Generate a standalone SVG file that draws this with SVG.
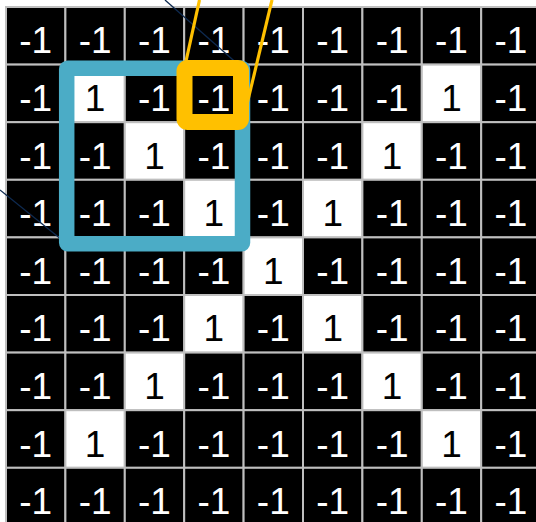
<svg xmlns="http://www.w3.org/2000/svg" width="536" height="522" viewBox="0 0 536 522">
<style>
rect.b{fill:#000;stroke:#bfbfbf;stroke-width:2}
rect.w{fill:#fff;stroke:#bfbfbf;stroke-width:2}
text{font-family:"Liberation Sans",Arial,sans-serif;font-size:37px;text-anchor:middle}
text.n{fill:#fff}
text.p{fill:#000}
.navy{stroke:#0e2a50;stroke-width:1.3;fill:none}
.yl{stroke:#ffc000;stroke-width:3.2;fill:none}
</style>
<rect width="536" height="522" fill="#fff"/>
<g id="grid">
<g id="r0">
<g id="c0-0"><rect class="b" x="6" y="7" width="59.4" height="57.6"/><text class="n" x="35.7" y="53.3">-1</text></g>
<g id="c0-1"><rect class="b" x="65.4" y="7" width="59.4" height="57.6"/><text class="n" x="95.1" y="53.3">-1</text></g>
<g id="c0-2"><rect class="b" x="124.8" y="7" width="59.4" height="57.6"/><text class="n" x="154.5" y="53.3">-1</text></g>
<g id="c0-3"><rect class="b" x="184.2" y="7" width="59.4" height="57.6"/><text class="n" x="213.9" y="53.3">-1</text></g>
<g id="c0-4"><rect class="b" x="243.6" y="7" width="59.4" height="57.6"/><text class="n" x="273.3" y="53.3">-1</text></g>
<g id="c0-5"><rect class="b" x="303" y="7" width="59.4" height="57.6"/><text class="n" x="332.7" y="53.3">-1</text></g>
<g id="c0-6"><rect class="b" x="362.4" y="7" width="59.4" height="57.6"/><text class="n" x="392.1" y="53.3">-1</text></g>
<g id="c0-7"><rect class="b" x="421.8" y="7" width="59.4" height="57.6"/><text class="n" x="451.5" y="53.3">-1</text></g>
<g id="c0-8"><rect class="b" x="481.2" y="7" width="59.4" height="57.6"/><text class="n" x="510.9" y="53.3">-1</text></g>
</g>
<g id="r1">
<g id="c1-0"><rect class="b" x="6" y="64.6" width="59.4" height="57.6"/><text class="n" x="35.7" y="110.9">-1</text></g>
<g id="c1-1"><rect class="w" x="65.4" y="64.6" width="59.4" height="57.6"/><text class="p" x="95.1" y="110.9">1</text></g>
<g id="c1-2"><rect class="b" x="124.8" y="64.6" width="59.4" height="57.6"/><text class="n" x="154.5" y="110.9">-1</text></g>
<g id="c1-3"><rect class="b" x="184.2" y="64.6" width="59.4" height="57.6"/><text class="n" x="213.9" y="110.9">-1</text></g>
<g id="c1-4"><rect class="b" x="243.6" y="64.6" width="59.4" height="57.6"/><text class="n" x="273.3" y="110.9">-1</text></g>
<g id="c1-5"><rect class="b" x="303" y="64.6" width="59.4" height="57.6"/><text class="n" x="332.7" y="110.9">-1</text></g>
<g id="c1-6"><rect class="b" x="362.4" y="64.6" width="59.4" height="57.6"/><text class="n" x="392.1" y="110.9">-1</text></g>
<g id="c1-7"><rect class="w" x="421.8" y="64.6" width="59.4" height="57.6"/><text class="p" x="451.5" y="110.9">1</text></g>
<g id="c1-8"><rect class="b" x="481.2" y="64.6" width="59.4" height="57.6"/><text class="n" x="510.9" y="110.9">-1</text></g>
</g>
<g id="r2">
<g id="c2-0"><rect class="b" x="6" y="122.2" width="59.4" height="57.6"/><text class="n" x="35.7" y="168.5">-1</text></g>
<g id="c2-1"><rect class="b" x="65.4" y="122.2" width="59.4" height="57.6"/><text class="n" x="95.1" y="168.5">-1</text></g>
<g id="c2-2"><rect class="w" x="124.8" y="122.2" width="59.4" height="57.6"/><text class="p" x="154.5" y="168.5">1</text></g>
<g id="c2-3"><rect class="b" x="184.2" y="122.2" width="59.4" height="57.6"/><text class="n" x="213.9" y="168.5">-1</text></g>
<g id="c2-4"><rect class="b" x="243.6" y="122.2" width="59.4" height="57.6"/><text class="n" x="273.3" y="168.5">-1</text></g>
<g id="c2-5"><rect class="b" x="303" y="122.2" width="59.4" height="57.6"/><text class="n" x="332.7" y="168.5">-1</text></g>
<g id="c2-6"><rect class="w" x="362.4" y="122.2" width="59.4" height="57.6"/><text class="p" x="392.1" y="168.5">1</text></g>
<g id="c2-7"><rect class="b" x="421.8" y="122.2" width="59.4" height="57.6"/><text class="n" x="451.5" y="168.5">-1</text></g>
<g id="c2-8"><rect class="b" x="481.2" y="122.2" width="59.4" height="57.6"/><text class="n" x="510.9" y="168.5">-1</text></g>
</g>
<g id="r3">
<g id="c3-0"><rect class="b" x="6" y="179.8" width="59.4" height="57.6"/><text class="n" x="35.7" y="226.1">-1</text></g>
<g id="c3-1"><rect class="b" x="65.4" y="179.8" width="59.4" height="57.6"/><text class="n" x="95.1" y="226.1">-1</text></g>
<g id="c3-2"><rect class="b" x="124.8" y="179.8" width="59.4" height="57.6"/><text class="n" x="154.5" y="226.1">-1</text></g>
<g id="c3-3"><rect class="w" x="184.2" y="179.8" width="59.4" height="57.6"/><text class="p" x="213.9" y="226.1">1</text></g>
<g id="c3-4"><rect class="b" x="243.6" y="179.8" width="59.4" height="57.6"/><text class="n" x="273.3" y="226.1">-1</text></g>
<g id="c3-5"><rect class="w" x="303" y="179.8" width="59.4" height="57.6"/><text class="p" x="332.7" y="226.1">1</text></g>
<g id="c3-6"><rect class="b" x="362.4" y="179.8" width="59.4" height="57.6"/><text class="n" x="392.1" y="226.1">-1</text></g>
<g id="c3-7"><rect class="b" x="421.8" y="179.8" width="59.4" height="57.6"/><text class="n" x="451.5" y="226.1">-1</text></g>
<g id="c3-8"><rect class="b" x="481.2" y="179.8" width="59.4" height="57.6"/><text class="n" x="510.9" y="226.1">-1</text></g>
</g>
<g id="r4">
<g id="c4-0"><rect class="b" x="6" y="237.4" width="59.4" height="57.6"/><text class="n" x="35.7" y="283.7">-1</text></g>
<g id="c4-1"><rect class="b" x="65.4" y="237.4" width="59.4" height="57.6"/><text class="n" x="95.1" y="283.7">-1</text></g>
<g id="c4-2"><rect class="b" x="124.8" y="237.4" width="59.4" height="57.6"/><text class="n" x="154.5" y="283.7">-1</text></g>
<g id="c4-3"><rect class="b" x="184.2" y="237.4" width="59.4" height="57.6"/><text class="n" x="213.9" y="283.7">-1</text></g>
<g id="c4-4"><rect class="w" x="243.6" y="237.4" width="59.4" height="57.6"/><text class="p" x="273.3" y="283.7">1</text></g>
<g id="c4-5"><rect class="b" x="303" y="237.4" width="59.4" height="57.6"/><text class="n" x="332.7" y="283.7">-1</text></g>
<g id="c4-6"><rect class="b" x="362.4" y="237.4" width="59.4" height="57.6"/><text class="n" x="392.1" y="283.7">-1</text></g>
<g id="c4-7"><rect class="b" x="421.8" y="237.4" width="59.4" height="57.6"/><text class="n" x="451.5" y="283.7">-1</text></g>
<g id="c4-8"><rect class="b" x="481.2" y="237.4" width="59.4" height="57.6"/><text class="n" x="510.9" y="283.7">-1</text></g>
</g>
<g id="r5">
<g id="c5-0"><rect class="b" x="6" y="295" width="59.4" height="57.6"/><text class="n" x="35.7" y="341.3">-1</text></g>
<g id="c5-1"><rect class="b" x="65.4" y="295" width="59.4" height="57.6"/><text class="n" x="95.1" y="341.3">-1</text></g>
<g id="c5-2"><rect class="b" x="124.8" y="295" width="59.4" height="57.6"/><text class="n" x="154.5" y="341.3">-1</text></g>
<g id="c5-3"><rect class="w" x="184.2" y="295" width="59.4" height="57.6"/><text class="p" x="213.9" y="341.3">1</text></g>
<g id="c5-4"><rect class="b" x="243.6" y="295" width="59.4" height="57.6"/><text class="n" x="273.3" y="341.3">-1</text></g>
<g id="c5-5"><rect class="w" x="303" y="295" width="59.4" height="57.6"/><text class="p" x="332.7" y="341.3">1</text></g>
<g id="c5-6"><rect class="b" x="362.4" y="295" width="59.4" height="57.6"/><text class="n" x="392.1" y="341.3">-1</text></g>
<g id="c5-7"><rect class="b" x="421.8" y="295" width="59.4" height="57.6"/><text class="n" x="451.5" y="341.3">-1</text></g>
<g id="c5-8"><rect class="b" x="481.2" y="295" width="59.4" height="57.6"/><text class="n" x="510.9" y="341.3">-1</text></g>
</g>
<g id="r6">
<g id="c6-0"><rect class="b" x="6" y="352.6" width="59.4" height="57.6"/><text class="n" x="35.7" y="398.9">-1</text></g>
<g id="c6-1"><rect class="b" x="65.4" y="352.6" width="59.4" height="57.6"/><text class="n" x="95.1" y="398.9">-1</text></g>
<g id="c6-2"><rect class="w" x="124.8" y="352.6" width="59.4" height="57.6"/><text class="p" x="154.5" y="398.9">1</text></g>
<g id="c6-3"><rect class="b" x="184.2" y="352.6" width="59.4" height="57.6"/><text class="n" x="213.9" y="398.9">-1</text></g>
<g id="c6-4"><rect class="b" x="243.6" y="352.6" width="59.4" height="57.6"/><text class="n" x="273.3" y="398.9">-1</text></g>
<g id="c6-5"><rect class="b" x="303" y="352.6" width="59.4" height="57.6"/><text class="n" x="332.7" y="398.9">-1</text></g>
<g id="c6-6"><rect class="w" x="362.4" y="352.6" width="59.4" height="57.6"/><text class="p" x="392.1" y="398.9">1</text></g>
<g id="c6-7"><rect class="b" x="421.8" y="352.6" width="59.4" height="57.6"/><text class="n" x="451.5" y="398.9">-1</text></g>
<g id="c6-8"><rect class="b" x="481.2" y="352.6" width="59.4" height="57.6"/><text class="n" x="510.9" y="398.9">-1</text></g>
</g>
<g id="r7">
<g id="c7-0"><rect class="b" x="6" y="410.2" width="59.4" height="57.6"/><text class="n" x="35.7" y="456.5">-1</text></g>
<g id="c7-1"><rect class="w" x="65.4" y="410.2" width="59.4" height="57.6"/><text class="p" x="95.1" y="456.5">1</text></g>
<g id="c7-2"><rect class="b" x="124.8" y="410.2" width="59.4" height="57.6"/><text class="n" x="154.5" y="456.5">-1</text></g>
<g id="c7-3"><rect class="b" x="184.2" y="410.2" width="59.4" height="57.6"/><text class="n" x="213.9" y="456.5">-1</text></g>
<g id="c7-4"><rect class="b" x="243.6" y="410.2" width="59.4" height="57.6"/><text class="n" x="273.3" y="456.5">-1</text></g>
<g id="c7-5"><rect class="b" x="303" y="410.2" width="59.4" height="57.6"/><text class="n" x="332.7" y="456.5">-1</text></g>
<g id="c7-6"><rect class="b" x="362.4" y="410.2" width="59.4" height="57.6"/><text class="n" x="392.1" y="456.5">-1</text></g>
<g id="c7-7"><rect class="w" x="421.8" y="410.2" width="59.4" height="57.6"/><text class="p" x="451.5" y="456.5">1</text></g>
<g id="c7-8"><rect class="b" x="481.2" y="410.2" width="59.4" height="57.6"/><text class="n" x="510.9" y="456.5">-1</text></g>
</g>
<g id="r8">
<g id="c8-0"><rect class="b" x="6" y="467.8" width="59.4" height="57.6"/><text class="n" x="35.7" y="514.1">-1</text></g>
<g id="c8-1"><rect class="b" x="65.4" y="467.8" width="59.4" height="57.6"/><text class="n" x="95.1" y="514.1">-1</text></g>
<g id="c8-2"><rect class="b" x="124.8" y="467.8" width="59.4" height="57.6"/><text class="n" x="154.5" y="514.1">-1</text></g>
<g id="c8-3"><rect class="b" x="184.2" y="467.8" width="59.4" height="57.6"/><text class="n" x="213.9" y="514.1">-1</text></g>
<g id="c8-4"><rect class="b" x="243.6" y="467.8" width="59.4" height="57.6"/><text class="n" x="273.3" y="514.1">-1</text></g>
<g id="c8-5"><rect class="b" x="303" y="467.8" width="59.4" height="57.6"/><text class="n" x="332.7" y="514.1">-1</text></g>
<g id="c8-6"><rect class="b" x="362.4" y="467.8" width="59.4" height="57.6"/><text class="n" x="392.1" y="514.1">-1</text></g>
<g id="c8-7"><rect class="b" x="421.8" y="467.8" width="59.4" height="57.6"/><text class="n" x="451.5" y="514.1">-1</text></g>
<g id="c8-8"><rect class="b" x="481.2" y="467.8" width="59.4" height="57.6"/><text class="n" x="510.9" y="514.1">-1</text></g>
</g>
</g>
<g id="connectors">
<line class="navy" x1="165" y1="0" x2="242.5" y2="68.3"/>
<line class="navy" x1="0" y1="190" x2="66.7" y2="243.7"/>
</g>
<g id="filter-blue">
<rect x="66.7" y="68.3" width="175.8" height="175.4" rx="1" fill="none" stroke="#4bacc6" stroke-width="15.5" stroke-linejoin="round"/>
</g>
<g id="filter-yellow">
<rect x="184.5" y="68" width="56.5" height="54" rx="3" fill="none" stroke="#ffc000" stroke-width="16" stroke-linejoin="round"/>
</g>
<g id="yellow-connectors">
<line class="yl" x1="199.5" y1="0" x2="184.5" y2="68"/>
<line class="yl" x1="272" y1="0" x2="243" y2="121"/>
</g>
</svg>
